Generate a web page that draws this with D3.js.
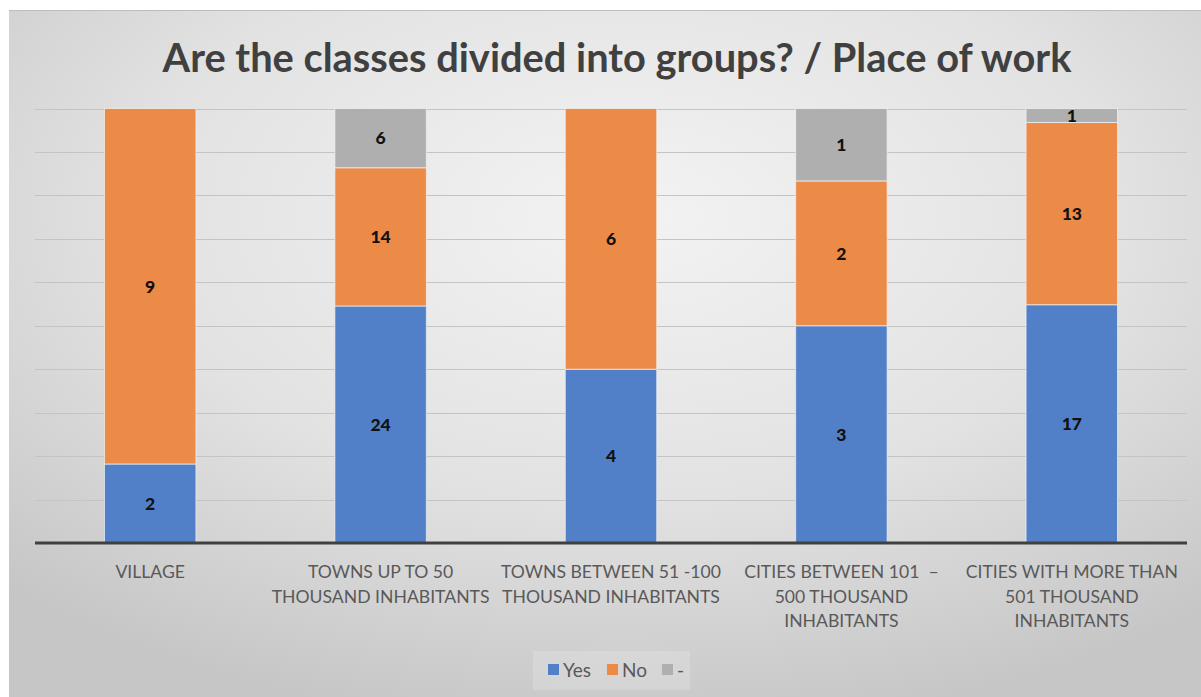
<!DOCTYPE html>
<html>
<head>
<meta charset="utf-8">
<script src="https://cdn.jsdelivr.net/npm/d3@7"></script>
<style>
  html, body { margin: 0; padding: 0; background: #ffffff; }
  svg { display: block; }
</style>
</head>
<body>
<svg id="chart" width="1201" height="697"></svg>
<script>
// Survey answers per place of work
const categories = [
  ["VILLAGE"],
  ["TOWNS UP TO 50", "THOUSAND INHABITANTS"],
  ["TOWNS BETWEEN 51 -100", "THOUSAND INHABITANTS"],
  ["CITIES BETWEEN 101  \u2013", "500 THOUSAND", "INHABITANTS"],
  ["CITIES WITH MORE THAN", "501 THOUSAND", "INHABITANTS"]
];
const seriesNames = ["Yes", "No", "-"];
const yesValues = [2, 24, 4, 3, 17];
const noValues = [9, 14, 6, 2, 13];
const dashValues = [0, 6, 0, 1, 1];
const percentTicks = [0, 0.1, 0.2, 0.3, 0.4, 0.5, 0.6, 0.7, 0.8, 0.9, 1];
const colors = ["#5180c9", "#ec8a48", "#afafaf"];

const svg = d3.select("#chart");
const W = 1201, H = 697;
const FONT = "Lato, 'Open Sans', sans-serif";

// Chart frame with soft radial shading
const defs = svg.append("defs");
const grad = defs.append("radialGradient").attr("id", "bg")
  .attr("cx", "52%").attr("cy", "30%").attr("r", "75%");
grad.append("stop").attr("offset", "0%").attr("stop-color", "#f3f3f3");
grad.append("stop").attr("offset", "55%").attr("stop-color", "#e2e2e2");
grad.append("stop").attr("offset", "100%").attr("stop-color", "#c6c6c6");

svg.append("rect").attr("x", 9).attr("y", 10).attr("width", W - 9).attr("height", H - 10)
  .attr("fill", "url(#bg)");
svg.append("line").attr("x1", 9).attr("x2", W).attr("y1", 10.5).attr("y2", 10.5)
  .attr("stroke", "#bdbdbd").attr("stroke-width", 1);

// Title
svg.append("text")
  .attr("x", 617).attr("y", 72)
  .attr("text-anchor", "middle")
  .attr("font-family", FONT)
  .attr("font-weight", "bold")
  .attr("font-size", 39.8)
  .attr("fill", "#404040")
  .text("Are the classes divided into groups? / Place of work");

// Scales
const plot = { left: 35, right: 1187, top: 108.5, bottom: 543 };
const x = d3.scaleBand().domain(d3.range(categories.length))
  .range([plot.left, plot.right]).paddingInner(0.603).paddingOuter(0.3015);
const y = d3.scaleLinear().domain([0, 1]).range([plot.bottom, plot.top]);

// Gridlines
svg.append("g").selectAll("line").data(percentTicks.slice(1)).join("line")
  .attr("x1", plot.left).attr("x2", plot.right)
  .attr("y1", d => Math.round(y(d)) + 0.5).attr("y2", d => Math.round(y(d)) + 0.5)
  .attr("stroke", "#c4c4c4").attr("stroke-width", 1);

// Stack to 100%
const rows = categories.map((c, i) => ({ i, Yes: yesValues[i], No: noValues[i], "-": dashValues[i] }));
const stack = d3.stack().keys(seriesNames).offset(d3.stackOffsetExpand);
const layers = stack(rows);

const gBars = svg.append("g");
layers.forEach((layer, k) => {
  const g = gBars.append("g");
  g.selectAll("rect").data(layer.filter(d => d.data[seriesNames[k]] > 0)).join("rect")
    .attr("x", d => x(d.data.i))
    .attr("width", x.bandwidth())
    .attr("y", d => y(d[1]))
    .attr("height", d => y(d[0]) - y(d[1]))
    .attr("fill", colors[k])
    .attr("stroke", "#f4f4f4")
    .attr("stroke-opacity", 0.7)
    .attr("stroke-width", 1);
});

// Value labels centred in each segment
layers.forEach((layer, k) => {
  svg.append("g").selectAll("text").data(layer.filter(d => d.data[seriesNames[k]] > 0)).join("text")
    .attr("x", d => x(d.data.i) + x.bandwidth() / 2)
    .attr("y", d => (y(d[0]) + y(d[1])) / 2)
    .attr("dy", "0.36em")
    .attr("text-anchor", "middle")
    .attr("font-family", FONT)
    .attr("font-weight", 900)
    .attr("font-size", 17.5)
    .attr("fill", "#111111")
    .text(d => d.data[seriesNames[k]]);
});

// Category axis
const xAxis = d3.axisBottom(x).tickSize(0).tickFormat("");
const axisG = svg.append("g").attr("transform", `translate(0,${plot.bottom})`).call(xAxis);
axisG.select(".domain").attr("stroke", "#404040").attr("stroke-width", 3)
  .attr("d", `M${plot.left},0H${plot.right}`);

const labelG = svg.append("g");
categories.forEach((lines, i) => {
  const cx = x(i) + x.bandwidth() / 2;
  const t = labelG.append("text")
    .attr("x", cx)
    .attr("y", 578)
    .attr("text-anchor", "middle")
    .attr("font-family", FONT)
    .attr("font-size", 17.6)
    .attr("fill", "#595959");
  lines.forEach((line, j) => {
    t.append("tspan").attr("x", cx).attr("y", 578 + j * 24.5)
      .attr("xml:space", "preserve").text(line);
  });
});

// Legend
const legend = svg.append("g");
legend.append("rect").attr("x", 533).attr("y", 651).attr("width", 157).attr("height", 39)
  .attr("fill", "#ffffff").attr("fill-opacity", 0.18);
const legendItems = [
  { name: seriesNames[0], x: 548 },
  { name: seriesNames[1], x: 607 },
  { name: seriesNames[2], x: 662 }
];
legendItems.forEach((d, k) => {
  legend.append("rect").attr("x", d.x).attr("y", 664).attr("width", 11).attr("height", 11)
    .attr("fill", colors[k]);
  legend.append("text").attr("x", d.x + 15).attr("y", 677)
    .attr("font-family", FONT)
    .attr("font-size", 19).attr("fill", "#595959")
    .text(d.name);
});
</script>
</body>
</html>
